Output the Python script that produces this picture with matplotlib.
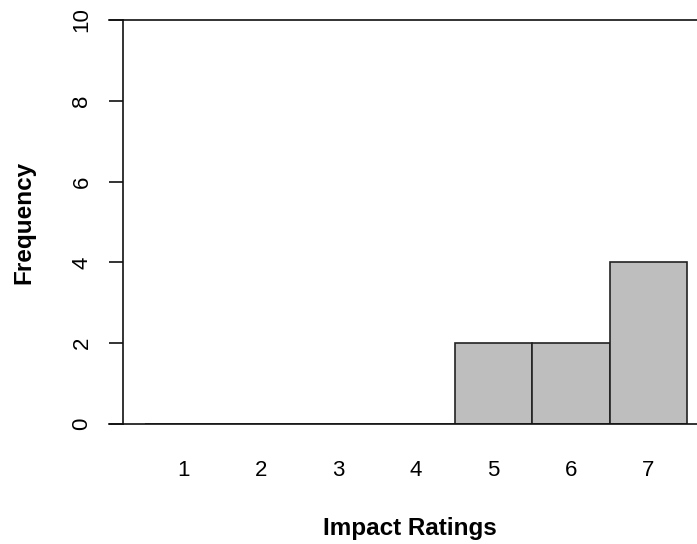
import matplotlib.pyplot as plt
from matplotlib.lines import Line2D

plt.rcParams['font.family'] = ['Liberation Sans', 'DejaVu Sans']

ratings = [1, 2, 3, 4, 5, 6, 7]
counts = [0, 0, 0, 0, 2, 2, 4]
y_ticks = [0, 2, 4, 6, 8, 10]

fig = plt.figure(figsize=(6.97, 5.44), dpi=100)
ax = fig.add_axes([123 / 697, 1 - 424 / 544, 1 - 123 / 697, (424 - 20) / 544])

ax.bar(ratings, counts, width=1.0, color='#BEBEBE', edgecolor='#222222', linewidth=1.2)

ax.set_xlim(0.5 - 22 / 77.5, 7.5 + 10 / 77.5)
ax.set_ylim(0, 10)

ax.spines['right'].set_visible(False)
for s in ['left', 'top', 'bottom']:
    ax.spines[s].set_linewidth(1.2)
    ax.spines[s].set_color('#111111')

# top and bottom lines reach out to the tick ends, as in the original
for yv in [0, 1]:
    ax.add_line(Line2D([-14 / 574, 0], [yv, yv], transform=ax.transAxes,
                       color='#111111', linewidth=1.2, clip_on=False))

ax.set_yticks(y_ticks)
ax.set_yticklabels([str(v) for v in y_ticks], rotation=90, va='center', fontsize=16)
ax.tick_params(axis='y', length=10, width=1.2, pad=12, color='#111111')

ax.set_xticks(ratings)
ax.set_xticklabels([str(r) for r in ratings], fontsize=16)
ax.tick_params(axis='x', length=0, pad=26)

ax.set_xlabel('Impact Ratings', fontsize=17.5, fontweight='bold', labelpad=26)
ax.set_ylabel('Frequency', fontsize=17.5, fontweight='bold', labelpad=26)

fig.savefig('out.png', dpi=100)
